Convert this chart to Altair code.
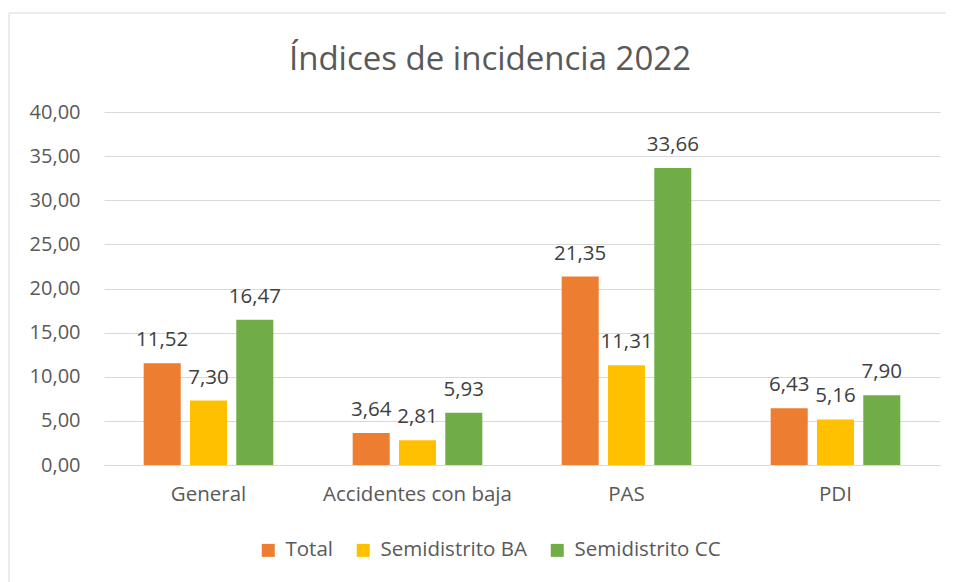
import altair as alt
import pandas as pd

categories = ["General", "Accidentes con baja", "PAS", "PDI"]
series = ["Total", "Semidistrito BA", "Semidistrito CC"]
total = [11.52, 3.64, 21.35, 6.43]
semi_ba = [7.30, 2.81, 11.31, 5.16]
semi_cc = [16.47, 5.93, 33.66, 7.90]
colors = ["#ED7D31", "#FFC000", "#70AD47"]
y_ticks = [0, 5, 10, 15, 20, 25, 30, 35, 40]
title_text = "Índices de incidencia 2022"

rows = []
for s, vals in zip(series, [total, semi_ba, semi_cc]):
    for c, v in zip(categories, vals):
        rows.append({"cat": c, "serie": s, "valor": v})
df = pd.DataFrame(rows)

FONT = "Open Sans"
GRAY = "#595959"

x_enc = alt.X("cat:N", sort=categories, title=None,
              scale=alt.Scale(paddingInner=0, paddingOuter=0),
              axis=alt.Axis(labelAngle=0, labelFontSize=20.5, labelColor=GRAY,
                            labelFont=FONT, labelPadding=19, ticks=False, labelLimit=400,
                            domainColor="#D9D9D9", grid=False))
xo_enc = alt.XOffset("serie:N", sort=series,
                     scale=alt.Scale(paddingInner=0.2, paddingOuter=0.857))
y_enc = alt.Y("valor:Q", title=None,
              scale=alt.Scale(domain=[0, 40], nice=False),
              axis=alt.Axis(values=y_ticks, ticks=False, domain=False,
                            labelFontSize=20, labelColor=GRAY, labelFont=FONT,
                            labelPadding=24, gridColor="#D9D9D9",
                            labelExpr="replace(format(datum.value, '.2f'), '.', ',')"))

base = alt.Chart(df)

bars = base.mark_bar().encode(
    x=x_enc, xOffset=xo_enc, y=y_enc,
    color=alt.Color("serie:N", sort=series,
                    scale=alt.Scale(domain=series, range=colors),
                    legend=alt.Legend(title=None, orient="none", direction="horizontal",
                                      legendX=154, legendY=428, symbolType="square",
                                      symbolSize=169, symbolStrokeWidth=0,
                                      labelFontSize=20.5, labelColor=GRAY, labelFont=FONT,
                                      labelOffset=7, columnPadding=20)),
)

labels = base.mark_text(baseline="alphabetic", dy=-17, fontSize=20.5,
                        color="#404040", font=FONT).encode(
    x=x_enc, xOffset=xo_enc, y=y_enc,
    text=alt.Text("label:N"),
).transform_calculate(label="replace(format(datum.valor, '.2f'), '.', ',')")

border = alt.Chart(pd.DataFrame({"a": [0]})).mark_rect(
    fill=None, stroke="#D9D9D9", strokeWidth=1).encode(
    x=alt.value(-95), x2=alt.value(860), y=alt.value(-99), y2=alt.value(480))

title = alt.Chart(pd.DataFrame({"t": [title_text]})).mark_text(
    fontSize=33, font=FONT, color=GRAY, baseline="alphabetic", align="center").encode(
    text="t:N", x=alt.value(386), y=alt.value(-42))

chart = alt.layer(border, bars, labels, title).properties(
    width=836, height=353,
    autosize=alt.AutoSizeParams(type="none"),
    padding={"left": 96, "top": 104, "right": 6, "bottom": 117},
).configure_view(stroke=None)

chart.save("out.html", embed_options={"renderer": "svg", "actions": False})
